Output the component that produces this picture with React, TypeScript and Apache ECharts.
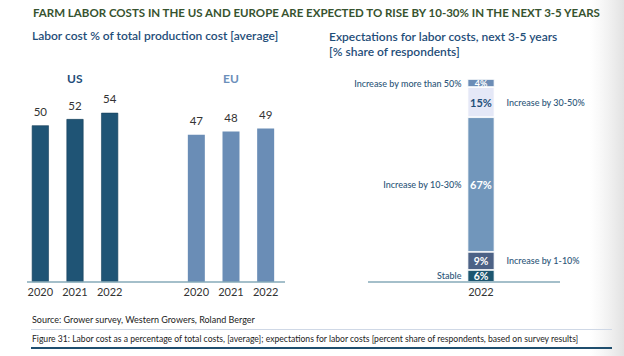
import React, { useEffect, useRef } from "react";
import * as echarts from "echarts";

const years = ["2020", "2021", "2022"];
const usValues = [50, 52, 54];
const euValues = [47, 48, 49];
const expCategory = ["2022"];
const expNames = [
  "Stable",
  "Increase by 1-10%",
  "Increase by 10-30%",
  "Increase by 30-50%",
  "Increase by more than 50%",
];
const expValues = [6, 9, 67, 15, 4];
const expColors = ["#1d5670", "#4d6286", "#7196bb", "#e5e8f7", "#6c8db6"];
const expLabelColors = ["#ffffff", "#ffffff", "#ffffff", "#1f4e79", "#ffffff"];
const expLabelSizes = [10.5, 10.5, 11, 11, 9];
const expNameSides = ["left", "right", "left", "right", "left"];

const FONT = "Lato, 'Noto Sans', sans-serif";

export default function App() {
  const ref = useRef<HTMLDivElement>(null);
  useEffect(() => {
    if (!ref.current) return;
    const chart = echarts.init(ref.current, undefined, { renderer: "svg" });
    const valueSeries = expNames.map((name, i) => ({
      type: "bar",
      name,
      xAxisIndex: 2,
      yAxisIndex: 2,
      stack: "exp",
      barWidth: 27,
      barGap: "-100%",
      data: [expValues[i]],
      itemStyle: { color: expColors[i], borderColor: "#ffffff", borderWidth: 0.8 },
      label: {
        show: true,
        position: "inside",
        formatter: "{c}%",
        color: expLabelColors[i],
        fontFamily: FONT,
        fontWeight: "bold",
        fontSize: expLabelSizes[i],
      },
      z: 3,
    }));
    const nameSeries = expNames.map((name, i) => ({
      type: "bar",
      name: name + " ",
      xAxisIndex: 2,
      yAxisIndex: 2,
      stack: "names",
      barWidth: 27,
      barGap: "-100%",
      data: [expValues[i]],
      itemStyle: { color: "rgba(0,0,0,0)" },
      silent: true,
      z: 1,
      label: {
        show: true,
        position: expNameSides[i],
        distance: expNameSides[i] === "left" ? 6 : 12,
        formatter: () => name,
        color: "#2d5679",
        fontFamily: FONT,
        fontWeight: 500,
        fontSize: 9,
      },
    }));
    const catAxis = (gridIndex: number, data: string[]) => ({
      type: "category",
      gridIndex,
      data,
      axisLine: { show: false },
      axisTick: { show: false },
      axisLabel: { color: "#333333", fontFamily: FONT, fontSize: 11, margin: 4 },
    });
    const valAxis = (gridIndex: number, max: number) => ({
      type: "value",
      gridIndex,
      min: 0,
      max,
      show: false,
      splitLine: { show: false },
    });
    const usLabel = {
      show: true,
      position: "top",
      distance: 8,
      color: "#333333",
      fontFamily: FONT,
      fontSize: 11.5,
    };
    chart.setOption({
      animation: false,
      backgroundColor: "#ffffff",
      title: [
        {
          text: "FARM LABOR COSTS IN THE US AND EUROPE ARE EXPECTED TO RISE BY 10-30% IN THE NEXT 3-5 YEARS",
          left: 33,
          top: 6,
          padding: 0,
          textStyle: { color: "#37532f", fontFamily: FONT, fontWeight: "bold", fontSize: 11.5 },
        },
        {
          text: "Labor cost % of total production cost [average]",
          left: 32,
          top: 29,
          padding: 0,
          textStyle: { color: "#1f4e79", fontFamily: FONT, fontWeight: 600, fontSize: 12 },
        },
        {
          text: "Expectations for labor costs, next 3-5 years\n[% share of respondents]",
          left: 329,
          top: 29,
          padding: 0,
          textStyle: { color: "#1f4e79", fontFamily: FONT, fontWeight: 600, fontSize: 12, lineHeight: 15 },
        },
        {
          text: "US",
          left: 67,
          top: 72,
          padding: 0,
          textStyle: { color: "#1f4e79", fontFamily: FONT, fontWeight: "bold", fontSize: 12 },
        },
        {
          text: "EU",
          left: 223,
          top: 72,
          padding: 0,
          textStyle: { color: "#6b8fba", fontFamily: FONT, fontWeight: "bold", fontSize: 12 },
        },
        {
          text: "Source: Grower survey, Western Growers, Roland Berger",
          left: 32,
          top: 315,
          padding: 0,
          textStyle: { color: "#222222", fontFamily: FONT, fontWeight: "normal", fontSize: 9 },
        },
        {
          text: "Figure 31: Labor cost as a percentage of total costs, [average]; expectations for labor costs [percent share of respondents, based on survey results]",
          left: 32,
          top: 334,
          padding: 0,
          textStyle: { color: "#222222", fontFamily: FONT, fontWeight: "normal", fontSize: 8.6 },
        },
      ],
      grid: [
        { left: 23, width: 104, top: 94, height: 188 },
        { left: 179, width: 104, top: 94, height: 188 },
        { left: 441, width: 80, top: 79, height: 203 },
      ],
      xAxis: [catAxis(0, years), catAxis(1, years), catAxis(2, expCategory)],
      yAxis: [valAxis(0, 60), valAxis(1, 60), valAxis(2, 101)],
      series: [
        {
          type: "bar",
          name: "US",
          xAxisIndex: 0,
          yAxisIndex: 0,
          barWidth: 17,
          data: usValues,
          itemStyle: { color: "#1f5475", borderColor: "#163f5a", borderWidth: 0.6 },
          label: usLabel,
        },
        {
          type: "bar",
          name: "EU",
          xAxisIndex: 1,
          yAxisIndex: 1,
          barWidth: 17,
          data: euValues,
          itemStyle: { color: "#6a8db6" },
          label: usLabel,
        },
        ...nameSeries,
        ...valueSeries,
      ],
      graphic: [
        {
          type: "rect",
          shape: { x: 590, y: 0, width: 34, height: 356 },
          style: {
            fill: new echarts.graphic.LinearGradient(0, 0, 1, 0, [
              { offset: 0, color: "rgba(235,235,235,0)" },
              { offset: 1, color: "rgba(226,226,226,1)" },
            ]),
          },
          z: -1,
        },
        {
          type: "line",
          shape: { x1: 27, y1: 282, x2: 285, y2: 282 },
          style: { stroke: "#86aab9", lineWidth: 1.5 },
          z: 10,
        },
        {
          type: "line",
          shape: { x1: 368, y1: 282, x2: 560, y2: 282 },
          style: { stroke: "#86aab9", lineWidth: 1.5 },
          z: 10,
        },
        {
          type: "line",
          shape: { x1: 31, y1: 329.5, x2: 612, y2: 329.5 },
          style: { stroke: "#cfd8e6", lineWidth: 1.2 },
        },
        {
          type: "line",
          shape: { x1: 31, y1: 348, x2: 612, y2: 348 },
          style: { stroke: "#1f4e6e", lineWidth: 2.2 },
        },
      ],
    });
    return () => chart.dispose();
  }, []);
  return (
    <div
      ref={ref}
      style={{ position: "fixed", left: 0, top: 0, width: 624, height: 356 }}
    />
  );
}
